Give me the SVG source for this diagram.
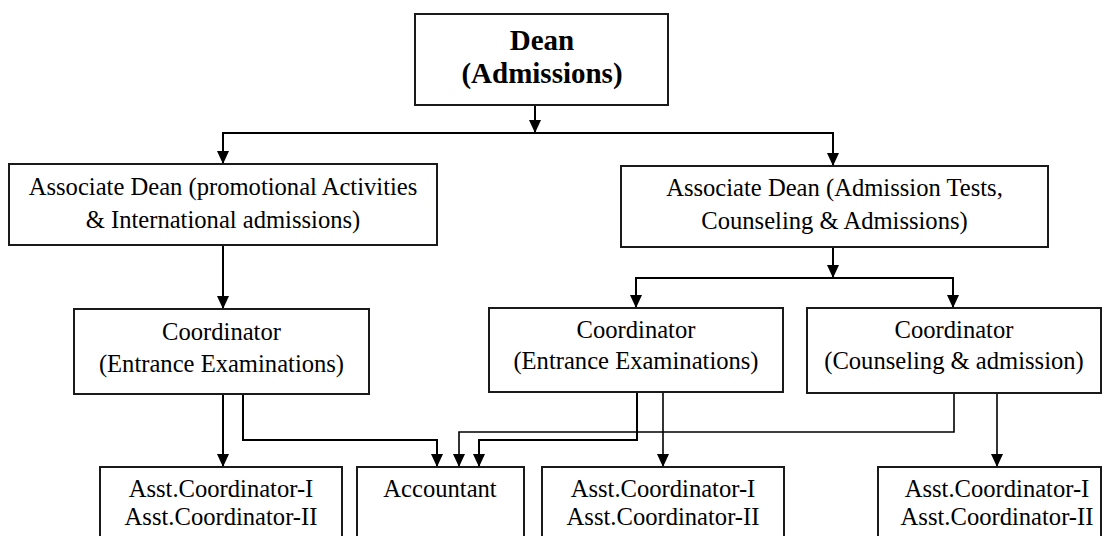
<svg xmlns="http://www.w3.org/2000/svg" width="1106" height="536" viewBox="0 0 1106 536">
  <style>
    .box { fill: #ffffff; stroke: #1a1a1a; stroke-width: 2; }
    text { font-family: 'Liberation Serif', 'Times New Roman', Times, serif; fill: #000; text-anchor: middle; }
    .t { font-size: 24.6px; }
    .tb { font-size: 29px; font-weight: bold; }
    .c { fill: none; stroke: #000; stroke-width: 2; }
    .thin { fill: none; stroke: #000; stroke-width: 1.6; }
  </style>
  <defs>
    <marker id="arr" markerUnits="userSpaceOnUse" markerWidth="12" markerHeight="14" viewBox="0 0 12 14" refX="6" refY="13" orient="0">
      <path d="M0,0 L12,0 L6,13 Z" fill="#000"/>
    </marker>
  </defs>
  <rect width="1106" height="536" fill="#ffffff"/>

  <g id="connectors">
    <path class="c" d="M535,105 V133" marker-end="url(#arr)"/>
    <path class="c" d="M535,133 H223 V164" marker-end="url(#arr)"/>
    <path class="c" d="M535,133 H833 V166" marker-end="url(#arr)"/>
    <path class="c" d="M223,245 V309" marker-end="url(#arr)"/>
    <path class="c" d="M833,247 V278" marker-end="url(#arr)"/>
    <path class="c" d="M833,278 H636 V308" marker-end="url(#arr)"/>
    <path class="c" d="M833,278 H953 V308" marker-end="url(#arr)"/>
    <path class="c" d="M223,394 V467" marker-end="url(#arr)"/>
    <path class="c" d="M243,394 V440 H437 V467" marker-end="url(#arr)"/>
    <path class="c" d="M637,392 V440 H479 V467" marker-end="url(#arr)"/>
    <path class="thin" d="M663,392 V467" marker-end="url(#arr)"/>
    <path class="thin" d="M954,393 V432 H459 V467" marker-end="url(#arr)"/>
    <path class="thin" d="M997,393 V467" marker-end="url(#arr)"/>
  </g>

  <g id="dean">
    <rect class="box" x="415" y="14" width="253" height="91"/>
    <text class="tb" x="542" y="50">Dean</text>
    <text class="tb" x="542" y="83">(Admissions)</text>
  </g>

  <g id="assoc-dean-left">
    <rect class="box" x="9" y="164" width="428" height="81"/>
    <text class="t" x="223" y="195">Associate Dean (promotional Activities</text>
    <text class="t" x="223" y="228">&amp; International admissions)</text>
  </g>

  <g id="assoc-dean-right">
    <rect class="box" x="621" y="166" width="427" height="81"/>
    <text class="t" x="834.5" y="196">Associate Dean (Admission Tests,</text>
    <text class="t" x="834.5" y="229">Counseling &amp; Admissions)</text>
  </g>

  <g id="coord-left">
    <rect class="box" x="74" y="309" width="295" height="85"/>
    <text class="t" x="221.5" y="340">Coordinator</text>
    <text class="t" x="221.5" y="372">(Entrance Examinations)</text>
  </g>

  <g id="coord-middle">
    <rect class="box" x="489" y="308" width="294" height="84"/>
    <text class="t" x="636" y="338">Coordinator</text>
    <text class="t" x="636" y="369">(Entrance Examinations)</text>
  </g>

  <g id="coord-right">
    <rect class="box" x="807" y="308" width="294" height="85"/>
    <text class="t" x="954" y="338">Coordinator</text>
    <text class="t" x="954" y="369">(Counseling &amp; admission)</text>
  </g>

  <g id="asst-left">
    <rect class="box" x="100" y="467" width="242" height="90"/>
    <text class="t" x="221" y="497">Asst.Coordinator-I</text>
    <text class="t" x="221" y="525">Asst.Coordinator-II</text>
  </g>

  <g id="accountant">
    <rect class="box" x="357" y="467" width="167" height="90"/>
    <text class="t" x="440" y="497">Accountant</text>
  </g>

  <g id="asst-middle">
    <rect class="box" x="542" y="467" width="242" height="90"/>
    <text class="t" x="663" y="497">Asst.Coordinator-I</text>
    <text class="t" x="663" y="525">Asst.Coordinator-II</text>
  </g>

  <g id="asst-right">
    <rect class="box" x="878" y="467" width="223" height="90"/>
    <text class="t" x="997" y="497">Asst.Coordinator-I</text>
    <text class="t" x="997" y="525">Asst.Coordinator-II</text>
  </g>
</svg>
